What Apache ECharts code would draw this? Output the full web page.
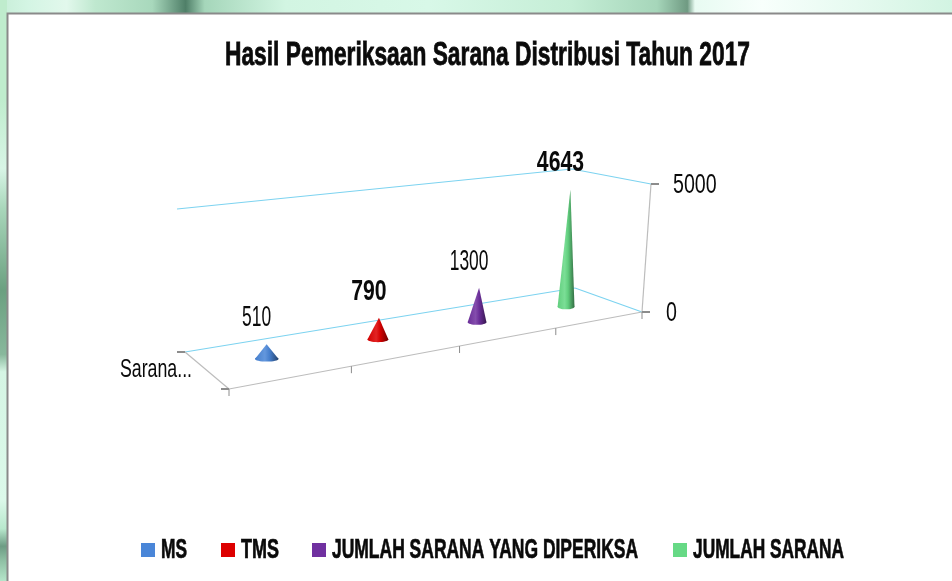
<!DOCTYPE html>
<html><head><meta charset="utf-8">
<style>html,body{margin:0;padding:0;background:#fff}#c{width:952px;height:581px}</style>
<script src="https://cdn.jsdelivr.net/npm/echarts@6/dist/echarts.min.js"></script>
</head><body><div id="c"></div>
<script>
// ---- data ----
const titleText = "Hasil Pemeriksaan Sarana Distribusi Tahun 2017";
const categories = ["MS", "TMS", "JUMLAH SARANA YANG DIPERIKSA", "JUMLAH SARANA"];
const values = [510, 790, 1300, 4643];
const colors = ["#4a86d8", "#dd0000", "#7030a0", "#66d985"];
const boldLabels = [false, true, false, true];
const valueTicks = [0, 5000];
const groupLabel = "Sarana...";

// ---- 3D look: screen corners of the chart box (floor and ceiling) ----
const FONT = '"Liberation Sans"';
const floorCorners = [[229,389],[642,312],[575,288],[185,352]];      // front-left, front-right, back-right, back-left
const ceilCorners  = [[222,237],[651,184],[572,169],[177,209]];
const GRID = {left:177, top:168, width:474, height:221};
const legendX = [141,221,312,673];
const legendTextW = [26,38,306,151];
const INK = '#0a0a0a';

const mctx = document.createElement('canvas').getContext('2d');
function fit(text,font,w){ mctx.font=font; return w/mctx.measureText(text).width; }

function homography(p){
  const [[x0,y0],[x1,y1],[x2,y2],[x3,y3]] = p;
  const dx1=x1-x2, dx2=x3-x2, sx=x0-x1+x2-x3, dy1=y1-y2, dy2=y3-y2, sy=y0-y1+y2-y3;
  const d=dx1*dy2-dx2*dy1, g=(sx*dy2-dx2*sy)/d, h=(dx1*sy-sx*dy1)/d;
  const a=x1-x0+g*x1, b=x3-x0+h*x3, e=y1-y0+g*y1, f=y3-y0+h*y3;
  return (u,v)=>{const w=g*u+h*v+1; return [(a*u+b*v+x0)/w,(e*u+f*v+y0)/w];};
}
const floorH = homography(floorCorners), ceilH = homography(ceilCorners);
function project(u,v,t){
  const a=floorH(u,v), b=ceilH(u,v);
  return [a[0]+(b[0]-a[0])*t, a[1]+(b[1]-a[1])*t];
}
const shade=(c,k)=>{const n=parseInt(c.slice(1),16);const m=x=>{const r=k<0?x*(1+k):x+(255-x)*k;return Math.round(r)};
  return `rgb(${m(n>>16)},${m((n>>8)&255)},${m(n&255)})`;};

function coneItem(idx){
  return function(params, api){
    const pt = api.coord([api.value(0), api.value(1)]);
    const cs = params.coordSys;
    const u = (pt[0]-cs.x)/cs.width, t = (cs.y+cs.height-pt[1])/cs.height, v = 0.5;
    const base = project(u,v,0), tip = project(u,v,t);
    const hw = (project(u+0.025,v,0)[0]-project(u-0.025,v,0)[0])/2;
    const c = colors[idx], ry = 2.6;
    const grad = {type:'linear',x:0,y:0,x2:1,y2:0,colorStops:[
      {offset:0,color:shade(c,-0.05)},{offset:0.42,color:shade(c,0.14)},{offset:0.62,color:shade(c,-0.05)},{offset:1,color:shade(c,-0.5)}]};
    const pts=[[base[0]-hw,base[1]],[tip[0],tip[1]],[base[0]+hw,base[1]]];
    const bold = boldLabels[idx], font=(bold?'bold ':'')+'29px '+FONT;
    return {type:'group',children:[
      {type:'ellipse',shape:{cx:base[0],cy:base[1],rx:hw,ry:ry},style:{fill:grad}},
      {type:'polygon',shape:{points:pts},style:{fill:grad}},
      {type:'text',x:tip[0]-10,y:tip[1]-26,scaleX:bold?0.73:0.6,style:{text:String(api.value(1)),fill:INK,
        font:font,align:'center',verticalAlign:'middle'}}
    ]};
  };
}
function frameItem(params, api){
  const blue='#7dd3f0', grey='#bdbdbd', tick='#8c8c8c';
  const line=(a,b,col,w)=>({type:'line',shape:{x1:a[0],y1:a[1],x2:b[0],y2:b[1]},style:{stroke:col,lineWidth:w||1}});
  const F=(u,v)=>project(u,v,0), C=(u,v)=>project(u,v,1);
  const kids=[
    line(F(0,1),F(1,1),blue,1.2), line(F(1,1),F(1,0),blue,1.2),
    line(C(0,1),C(1,1),blue,1.2), line(C(1,1),C(1,0),blue,1.2),
    line(F(0,0),F(1,0),grey,1.2), line(F(0,0),F(0,1),grey,1.2), line(F(1,0),C(1,0),grey,1.2)
  ];
  for(let i=0;i<=categories.length;i++){
    const p=F(i/categories.length,0); kids.push(line(p,[p[0],p[1]+7],tick));
  }
  [F(0,0),F(0,1)].forEach(p=>kids.push(line([p[0]-8,p[1]],p,tick,2)));
  valueTicks.forEach(val=>{
    const p=project(1,0,val/valueTicks[1]);
    kids.push(line(p,[p[0]+8,p[1]],tick,2));
    kids.push({type:'text',x:p[0]+(val?22:24),y:p[1]+1,scaleX:0.7,style:{text:String(val),fill:INK,font:'28px '+FONT,align:'left',verticalAlign:'middle'}});
  });
  const l=F(0,0.5);
  const gf='25px '+FONT;
  kids.push({type:'text',x:192,y:l[1]+0.5,scaleX:fit(groupLabel,gf,72),style:{text:groupLabel,fill:INK,font:gf,align:'right',verticalAlign:'middle'}});
  return {type:'group',children:kids};
}

const series = [{type:'custom',name:'frame',coordinateSystem:'cartesian2d',silent:true,z:1,renderItem:frameItem,data:[[categories[0],0]],encode:{x:0,y:1}}]
 .concat(categories.map((cat,i)=>({
  type:'custom',name:cat,coordinateSystem:'cartesian2d',renderItem:coneItem(i),z:3,
  itemStyle:{color:colors[i]},data:[[cat,values[i]]],encode:{x:0,y:1}
})));

const titleFont='bold 34px '+FONT, legendFont='bold 28px '+FONT;
const legendGraphics=[];
categories.forEach((c,i)=>{
  legendGraphics.push({type:'rect',silent:true,shape:{x:legendX[i],y:543,width:14,height:14},style:{fill:colors[i]}});
  legendGraphics.push({type:'text',silent:true,x:legendX[i]+20,y:550.5,scaleX:fit(c,legendFont,legendTextW[i]),
    style:{text:c,font:legendFont,fill:INK,stroke:INK,lineWidth:0.7,align:'left',verticalAlign:'middle'}});
});

const chart = echarts.init(document.getElementById('c'),null,{renderer:'canvas'});
chart.setOption({
  animation:false,
  backgroundColor:'#fff',
  grid:GRID,
  xAxis:{type:'category',data:categories,show:false},
  yAxis:{type:'value',min:valueTicks[0],max:valueTicks[1],show:false},
  graphic:[
    {type:'rect',z:-10,silent:true,shape:{x:0,y:0,width:952,height:13},style:{fill:{type:'linear',x:0,y:0,x2:1,y2:0,colorStops:[
      {offset:0,color:'#c8eed8'},{offset:.03,color:'#d4f5e4'},{offset:.07,color:'#e2f8ec'},{offset:.1,color:'#bfe8cf'},{offset:.16,color:'#a8d8bc'},{offset:.195,color:'#4f7f68'},{offset:.215,color:'#a5d6ba'},{offset:.3,color:'#d2f5e2'},{offset:.45,color:'#d8f8e8'},{offset:.6,color:'#c5eed6'},{offset:.69,color:'#a6d6ba'},{offset:.722,color:'#6f9a82'},{offset:.73,color:'#e8fbf2'},{offset:.8,color:'#f8fffc'},{offset:.9,color:'#e6faf0'},{offset:1,color:'#d2f4e2'}]}}},
    {type:'rect',z:-10,silent:true,shape:{x:0,y:0,width:7,height:581},style:{fill:{type:'linear',x:0,y:0,x2:0,y2:1,colorStops:[
      {offset:0,color:'#bfeccd'},{offset:.17,color:'#bfeccd'},{offset:.29,color:'#d8f5e6'},{offset:.36,color:'#a8d6ba'},{offset:.5,color:'#6ba080'},{offset:.61,color:'#88b89c'},{offset:.64,color:'#d5f5e4'},{offset:.86,color:'#dcf9ea'},{offset:.91,color:'#b8e8cd'},{offset:.94,color:'#6d9c84'},{offset:.965,color:'#8fc0a4'},{offset:1,color:'#b5e5ca'}]}}},
    {type:'rect',z:-9,silent:true,shape:{x:7.5,y:13.5,width:960,height:600},style:{fill:'#fff',stroke:'#8a8a8a',lineWidth:2}},
    {type:'text',silent:true,x:225,y:55.5,scaleX:fit(titleText,titleFont,525),style:{text:titleText,font:titleFont,fill:INK,stroke:INK,lineWidth:0.8,align:'left',verticalAlign:'middle'}},
    ...legendGraphics
  ],
  series
});
</script></body></html>
